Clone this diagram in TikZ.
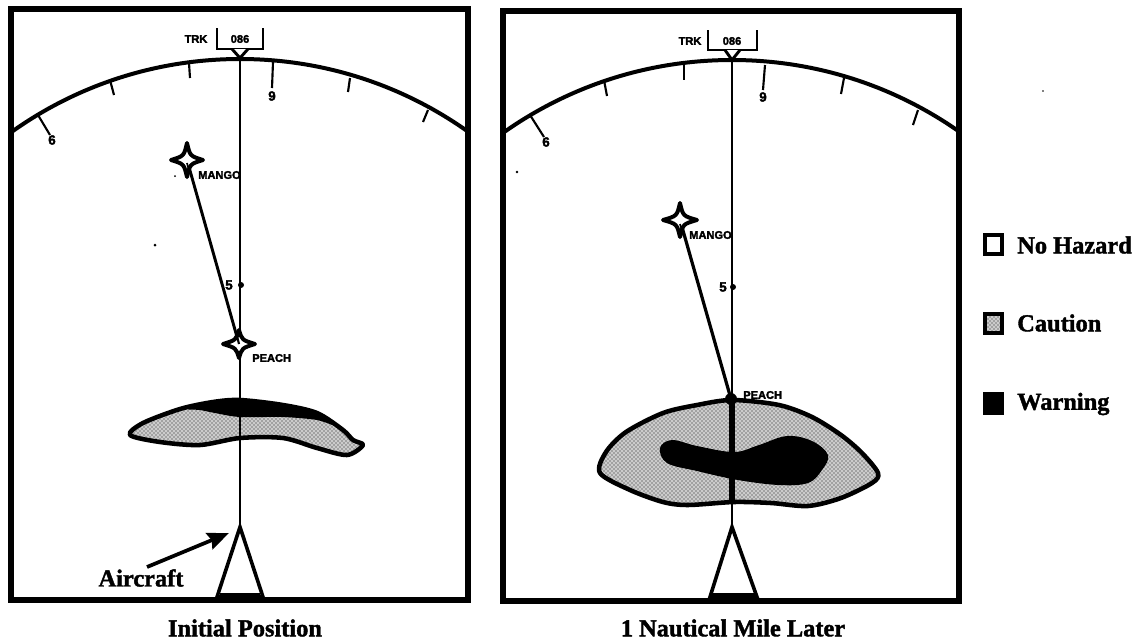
\documentclass[tikz,border=0pt]{standalone}
\usepackage{fontspec}
\setmainfont{Liberation Serif}[BoldFeatures={FakeBold=1.6}]
\setsansfont{Liberation Sans}[BoldFeatures={FakeBold=2.5}]
\usetikzlibrary{patterns,arrows.meta}
\tikzset{
  frame/.style={draw=black,line width=5pt,fill=white},
  arcline/.style={line width=3pt},
  tick/.style={line width=1.6pt},
  track/.style={line width=1.7pt},
  bracket/.style={line width=1.9pt},
  craft/.style={line width=2.7pt,line join=miter},
  outline/.style={line width=3.4pt,draw=black,line join=round},
  caution/.style={preaction={fill=black!20},pattern=crosshatch dots,pattern color=black!90},
  big/.style={font=\bfseries\fontsize{18.3}{20}\selectfont,inner sep=0pt},
  tiny/.style={font=\sffamily\bfseries\fontsize{8.3}{9}\selectfont,inner sep=0pt},
  blob/.style={font=\sffamily\bfseries\fontsize{10}{10}\selectfont,inner sep=0pt},
  swatch/.style={line width=2.6pt,draw=black},
  waystar/.style={line width=3pt,draw=black,fill=white,line join=round}
}
\newcommand{\wpstar}[4]{%
  \draw[waystar] (#1,#2-#4) .. controls (#1+3,#2-4) .. (#1+#3,#2)
    .. controls (#1+3,#2+4) .. (#1,#2+#4)
    .. controls (#1-3,#2+4) .. (#1-#3,#2)
    .. controls (#1-3,#2-4) .. cycle;}
\begin{document}
\begin{tikzpicture}[x=0.75pt,y=-0.75pt]
\useasboundingbox (0,0) rectangle (1135,643);
\fill[white] (0,0) rectangle (1135,643);
% frames
\draw[frame] (11,9) rectangle (468,600);
\draw[frame] (503,11) rectangle (959,601);

% ---------- left panel ----------
\begin{scope}
\clip (11,9) rectangle (468,600);
\draw[arcline] (240,453) circle (295.5pt);
\end{scope}
\draw[tick] (38,115) -- (50,135);
\draw[tick] (110,80) -- (114,95);
\draw[tick] (189,63) -- (190,78);
\draw[tick] (273,62) -- (272,88);
\draw[tick] (350,78) -- (348,92);
\draw[tick] (428,110) -- (423,122);
\node[blob] (lsix) at (52,140) {6};
\node[blob] (lnine) at (272,96) {9};
\node[tiny] (ltrk) at (196,39) {TRK};
\node[tiny] (lval) at (240,39) {086};
\draw[bracket] (217,28) -- (217,49) -- (263,49) -- (263,28);
\draw[line width=2.2pt,fill=white] (232,49) -- (240,58) -- (248,49);
\coordinate (ltop) at (240,59);
\coordinate (lapex) at (240,527);
\draw[track] (ltop) -- (lapex);
\fill (241,285) circle (3);
\node[blob] (lfive) at (229,285) {5};
\coordinate (lmango) at (187,160);
\coordinate (lpeach) at (239,344);
\draw[line width=2.2pt] (lmango) -- (lpeach);
\wpstar{187}{160}{16}{17}
\wpstar{239}{344}{16}{14}
\draw[line width=1.3pt] (187,163) -- (190,174);
\draw[line width=1.6pt] (236,332) -- (239,344);
\node[tiny,anchor=west] (lmname) at (198,175) {MANGO};
\node[tiny,anchor=west] (lpname) at (252,358) {PEACH};
% hazard left
\draw[outline,caution] plot[smooth cycle,tension=0.5] coordinates {(130,435) (143,423) (180,409) (213,402) (240,400) (283,405) (317,413) (343,430) (353,440) (363,445) (347,455) (317,448) (283,438) (240,438) (200,445) (160,442)};
\fill plot[smooth cycle,tension=0.5] coordinates {(188,409) (213,403) (240,401) (283,405) (317,413) (336,426) (317,420) (283,417) (240,417) (215,413) (200,410)};
\draw[track] (240,400) -- (240,440);
% aircraft left
\draw[craft] (lapex) -- (217,597) -- (263,597) -- cycle;
\fill (220,593) rectangle (260,598);
\node[big] (aircraft) at (141,578) {Aircraft};
\coordinate (atail) at (147,567);
\coordinate (ahead) at (229,533);
\draw[line width=2.8pt,-{Stealth[length=16pt,width=13pt,inset=2pt]}] (atail) -- (ahead);
\node[big] (cap1) at (245,628) {Initial Position};

% ---------- right panel ----------
\begin{scope}
\clip (503,11) rectangle (959,601);
\draw[arcline] (732,456) circle (297pt);
\end{scope}
\draw[tick] (530,115) -- (544,137);
\draw[tick] (604,80) -- (607,96);
\draw[tick] (684,65) -- (684,80);
\draw[tick] (765,65) -- (763,90);
\draw[tick] (844,78) -- (841,94);
\draw[tick] (918,110) -- (913,125);
\node[blob] (rsix) at (546,142) {6};
\node[blob] (rnine) at (763,97) {9};
\node[tiny] (rtrk) at (690,41) {TRK};
\node[tiny] (rval) at (732,41) {086};
\draw[bracket] (708,30) -- (708,50) -- (757,50) -- (757,30);
\draw[line width=2.2pt,fill=white] (725,50) -- (732,60) -- (740,50);
\coordinate (rtop) at (732,60);
\coordinate (rapex) at (732,527);
\draw[track] (rtop) -- (rapex);
\fill (733,287) circle (3);
\node[blob] (rfive) at (723,287) {5};
\coordinate (rmango) at (680,220);
\coordinate (rpeach) at (731,399);
\draw[line width=2.4pt] (rmango) -- (rpeach);
\wpstar{680}{220}{17}{17}
\draw[line width=1.3pt] (680,224) -- (684,237);
\node[tiny,anchor=west] (rmname) at (689,235) {MANGO};
\node[tiny,anchor=west] (rpname) at (743,395) {PEACH};
% hazard right
\draw[outline,caution] plot[smooth cycle,tension=0.5] coordinates {(600,473) (606,452) (626,432) (663,413) (697,405) (732,400) (779,405) (812,417) (841,435) (862,453) (878,473) (872,483) (841,498) (808,506) (771,503) (734,502) (688,505) (663,502) (630,490)};
\fill plot[smooth cycle,tension=0.6] coordinates {(660,448) (672,440) (697,446) (734,452) (759,445) (787,436) (812,441) (828,455) (822,470) (808,483) (779,485) (738,480) (697,471) (667,463)};
\draw[line width=4.4pt] (732,397) -- (732,504);
\fill (731,399) circle (6);
% aircraft right
\draw[craft] (rapex) -- (710,597) -- (757,597) -- cycle;
\fill (712,593) rectangle (755,598);
\node[big] (cap2) at (733,628) {1 Nautical Mile Later};

% ---------- legend ----------
\draw[swatch,fill=white] (985,235) rectangle (1002,254);
\draw[swatch,caution] (985,314) rectangle (1002,333);
\draw[swatch,fill=black] (985,394) rectangle (1002,413);
\node[big,anchor=west] (nohaz) at (1017,245) {No Hazard};
\node[big,anchor=west] (caut) at (1017,323) {Caution};
\node[big,anchor=west] (warn) at (1017,404) {Warning};
% specks
\fill (175,176) circle (1);
\fill (155,245) circle (1.5);
\fill (517,172) circle (1.3);
\fill (1043,91) circle (0.8);
\end{tikzpicture}
\end{document}
